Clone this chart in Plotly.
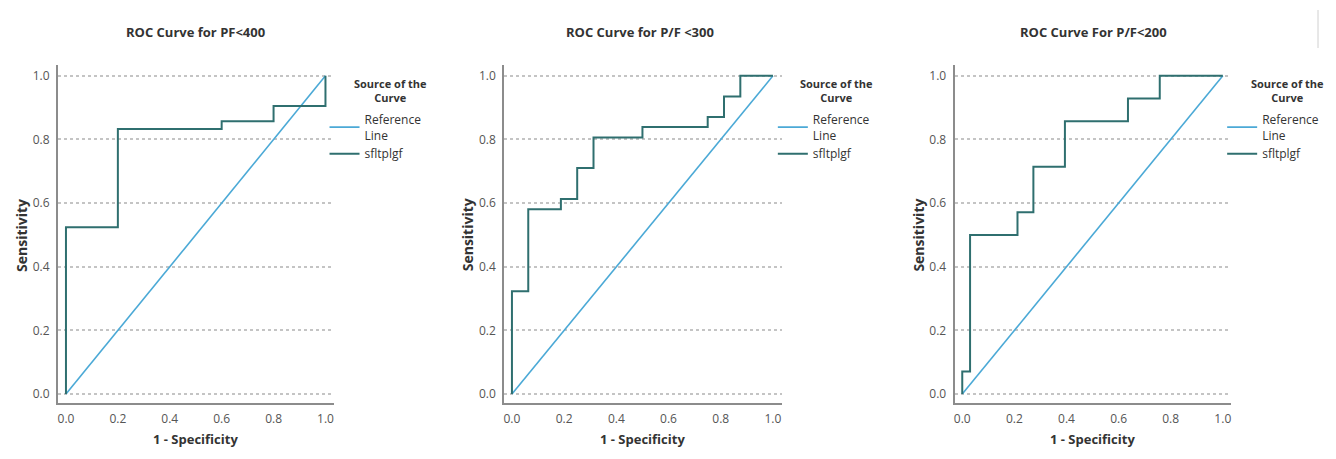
import plotly.graph_objects as go

# ---------------- data ----------------
titles = ["ROC Curve for PF<400", "ROC Curve for P/F <300", "ROC Curve For P/F<200"]
ref_x = [0.0, 1.0]
ref_y = [0.0, 1.0]

# panel 1 (step ROC points: 1 - specificity, sensitivity)
fpr1 = [0.0, 0.0, 0.2, 0.2, 0.6, 0.6, 0.8, 0.8, 1.0, 1.0]
tpr1 = [0.0, 0.524, 0.524, 0.833, 0.833, 0.857, 0.857, 0.905, 0.905, 1.0]

# panel 2
fpr2 = [0.0, 0.0, 0.0625, 0.0625, 0.1875, 0.1875, 0.25, 0.25, 0.3125, 0.3125,
        0.5, 0.5, 0.75, 0.75, 0.8125, 0.8125, 0.875, 0.875, 1.0]
tpr2 = [0.0, 0.323, 0.323, 0.581, 0.581, 0.613, 0.613, 0.710, 0.710, 0.806,
        0.806, 0.839, 0.839, 0.871, 0.871, 0.935, 0.935, 1.0, 1.0]

# panel 3
fpr3 = [0.0, 0.0, 0.030, 0.030, 0.212, 0.212, 0.273, 0.273, 0.394, 0.394,
        0.636, 0.636, 0.758, 0.758, 1.0]
tpr3 = [0.0, 0.071, 0.071, 0.5, 0.5, 0.571, 0.571, 0.714, 0.714, 0.857,
        0.857, 0.929, 0.929, 1.0, 1.0]

curves = [(fpr1, tpr1), (fpr2, tpr2), (fpr3, tpr3)]
tick_vals = [0.0, 0.2, 0.4, 0.6, 0.8, 1.0]
tick_text = ["0.0", "0.2", "0.4", "0.6", "0.8", "1.0"]

# ---------------- layout helpers ----------------
OFF = 8                      # default page body margin
W, H = 1320, 443             # figure size inside the page
REF_COLOR = "#4ba9d6"
CURVE_COLOR = "#2f6f6f"
AXIS_COLOR = "#8c8c8c"
GRID_COLOR = "#c4c4c4"
TEXT_COLOR = "#333333"
FONT = "Open Sans"


def px(x):
    return (x - OFF) / W


def py(y):
    return 1 - (y - OFF) / H


# screen pixel positions of plot areas [left, right]
panels_px = [(57, 333), (504, 782), (955, 1232)]
top_px, bottom_px = 65, 403
xranges = [[-0.031, 1.031], [-0.0295, 1.034], [-0.0295, 1.032]]
yrange = [-0.028, 1.034]
title_x = [195, 640, 1094]
xt_x = [195, 642, 1093]
yt_x = [20, 467, 918]
legend_x = [324, 773, 1223]
legtitle_x = [390, 837, 1288]

fig = go.Figure()
annotations = []
for i, (fx, ty) in enumerate(curves):
    n = "" if i == 0 else str(i + 1)
    lg = "legend" if i == 0 else f"legend{i+1}"
    fig.add_trace(go.Scatter(x=ref_x, y=ref_y, mode="lines", name="Reference<br>Line",
                             line=dict(color=REF_COLOR, width=1.6),
                             xaxis="x" + n, yaxis="y" + n, legend=lg))
    fig.add_trace(go.Scatter(x=fx, y=ty, mode="lines", name="sfltplgf",
                             line=dict(color=CURVE_COLOR, width=2),
                             xaxis="x" + n, yaxis="y" + n, legend=lg))
    l, r = panels_px[i]
    axcommon = dict(showline=True, linecolor=AXIS_COLOR, linewidth=2, ticks="",
                    tickvals=tick_vals, ticktext=tick_text, zeroline=False,
                    tickfont=dict(family=FONT, size=12, color="#555555"))
    fig.update_layout(**{
        "xaxis" + n: dict(domain=[px(l), px(r)], range=xranges[i], showgrid=False,
                          anchor="y" + n, ticklabelstandoff=4, **axcommon),
        "yaxis" + n: dict(domain=[py(bottom_px), py(top_px)], range=yrange,
                          showgrid=True, gridcolor=GRID_COLOR, griddash="dot", gridwidth=1.5,
                          anchor="x" + n, ticklabelstandoff=4, **axcommon),
        lg: dict(x=px(legend_x[i]), y=py(105), xanchor="left", yanchor="top",
                 bgcolor="rgba(0,0,0,0)", itemwidth=30, tracegroupgap=0,
                 font=dict(family=FONT, size=12, color=TEXT_COLOR)),
    })
    annotations.append(dict(text="<b>Source of the<br>Curve</b>", x=px(legtitle_x[i]),
                            y=py(90), xref="paper", yref="paper", showarrow=False,
                            xanchor="center", yanchor="middle", align="center",
                            font=dict(family=FONT, size=11, color=TEXT_COLOR)))
    annotations.append(dict(text=f"<b>{titles[i]}</b>", x=px(title_x[i]), y=py(32),
                            xref="paper", yref="paper", showarrow=False,
                            xanchor="center", yanchor="middle",
                            font=dict(family=FONT, size=13, color=TEXT_COLOR)))
    annotations.append(dict(text="<b>1 - Specificity</b>", x=px(xt_x[i]), y=py(450),
                            xref="paper", yref="paper", showarrow=False,
                            xanchor="center", yanchor="bottom",
                            font=dict(family=FONT, size=13, color=TEXT_COLOR)))
    annotations.append(dict(text="<b>Sensitivity</b>", x=px(yt_x[i]), y=py(235),
                            xref="paper", yref="paper", showarrow=False, textangle=-90,
                            xanchor="center", yanchor="middle",
                            font=dict(family=FONT, size=14, color=TEXT_COLOR)))

fig.update_layout(
    width=W, height=H, margin=dict(l=0, r=0, t=0, b=0),
    paper_bgcolor="white", plot_bgcolor="white",
    showlegend=True, annotations=annotations,
    shapes=[dict(type="line", xref="paper", yref="paper", x0=px(1319), x1=px(1319),
                 y0=py(10), y1=py(48), line=dict(color="#d0d0d0", width=1))],
)

fig.write_html("out.html")
